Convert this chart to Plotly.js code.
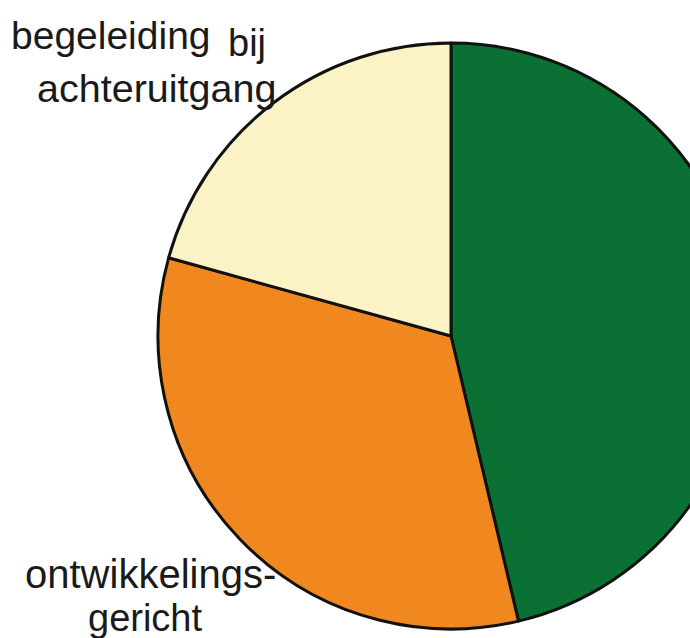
<!DOCTYPE html>
<html>
<head>
<meta charset="utf-8">
<script src="https://cdn.plot.ly/plotly-3.0.1.min.js"></script>
<style>
  html, body { margin: 0; padding: 0; overflow: hidden; background: #ffffff; }
  #chart { width: 760px; height: 638px; }
</style>
</head>
<body>
<div id="chart"></div>
<script>
// slice data (clockwise from 12 o'clock)
const sliceNames = ['overig', 'ontwikkelingsgericht', 'begeleiding bij achteruitgang'];
const sliceValues = [46.3, 33.0, 20.7];
const sliceColors = ['#0b7033', '#f0871f', '#fbf3c6'];

// label texts
const labelTexts = ['begeleiding', 'bij', 'achteruitgang', 'ontwikkelings-', 'gericht'];
const labelSizes = [39, 38, 39.5, 40, 38];

const W = 760, H = 638;
// pixel helpers for annotation placement
const px = x => x / W;
const py = y => 1 - y / H;

const pie = {
    type: 'pie',
    values: sliceValues,
    labels: sliceNames,
    sort: false,
    direction: 'clockwise',
    rotation: 0,
    textinfo: 'none',
    hoverinfo: 'none',
    showlegend: false,
    marker: {
        colors: sliceColors,
        line: { color: '#111111', width: 3 }
    },
    domain: { x: [px(158), px(744)], y: [py(629), py(43)] }
};

const labelPos = [
    { x: 9, y: 35 },
    { x: 226, y: 43 },
    { x: 35, y: 88 },
    { x: 23, y: 574 },
    { x: 86, y: 618 }
];

const annotations = labelTexts.map((t, i) => ({
    text: t,
    xref: 'paper', yref: 'paper',
    x: px(labelPos[i].x), y: py(labelPos[i].y),
    xanchor: 'left', yanchor: 'middle',
    showarrow: false,
    font: { family: 'Liberation Sans, Arial, sans-serif', size: labelSizes[i], color: '#1a1a1a' }
}));

const layout = {
    width: W,
    height: H,
    margin: { t: 0, b: 0, l: 0, r: 0 },
    paper_bgcolor: '#ffffff',
    annotations: annotations
};

Plotly.newPlot('chart', [pie], layout, { displayModeBar: false, staticPlot: true });
</script>
</body>
</html>
